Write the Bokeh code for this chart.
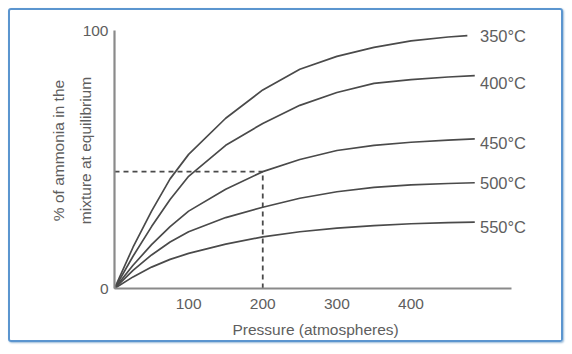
from bokeh.plotting import figure
from bokeh.models import Range1d, FixedTicker, ColumnDataSource, Title
from bokeh.core.properties import value
from bokeh.embed import file_html
from bokeh.resources import INLINE

# ---- data ----
pressure = [0, 25, 50, 75, 100, 150, 200, 250, 300, 350, 400, 450]
end_pressure = [476, 486, 486, 486, 486]
temperatures = ["350", "400", "450", "500", "550"]
pct_350 = [0, 16, 30, 42.5, 52, 66, 77, 85, 90, 93.5, 96, 97.5, 98]
pct_400 = [0, 12.5, 24, 34.5, 43.5, 55.5, 64, 71, 76, 79.5, 81, 82, 82.5]
pct_450 = [0, 9, 17, 24, 30, 38.5, 45.3, 50, 53.5, 55.5, 56.7, 57.5, 58]
pct_500 = [0, 7, 13, 18, 22, 27.5, 31.5, 35, 37.5, 39.2, 40.2, 40.7, 41]
pct_550 = [0, 4.5, 8.3, 11.3, 13.6, 17.2, 20, 22, 23.4, 24.4, 25.1, 25.5, 25.7]
read_pressure = 200
read_percent = 45.3
x_ticks = [100, 200, 300, 400]
y_ticks = [0, 100]

series = [pct_350, pct_400, pct_450, pct_500, pct_550]

FONT = "Liberation Sans"
TXT = "#5e5e5e"

p = figure(width=555, height=334, output_backend="svg", toolbar_location=None,
           x_range=Range1d(0, 603), y_range=Range1d(0, 107),
           min_border_left=104, min_border_right=4, min_border_top=2,
           min_border_bottom=56)
p.styles = {"margin-left": "8px", "margin-top": "8px",
            "border": "2px solid #5b95cf", "border-radius": "3px",
            "box-shadow": "1px 1px 2px #9bbbd8"}
p.background_fill_color = "white"
p.border_fill_color = "white"
p.outline_line_color = None
p.grid.visible = False

# axes
for ax in (p.xaxis[0], p.yaxis[0]):
    ax.axis_line_color = "#8a8a8a"
    ax.axis_line_width = 2.2
    ax.major_tick_line_color = None
    ax.minor_tick_line_color = None
    ax.major_tick_out = 0
    ax.major_tick_in = 0
    ax.minor_tick_out = 0
    ax.major_label_text_font = FONT
    ax.major_label_text_font_size = "15.5px"
    ax.major_label_text_color = TXT
    ax.axis_label_text_font = FONT
    ax.axis_label_text_font_size = "15.5px"
    ax.axis_label_text_font_style = "normal"
    ax.axis_label_text_color = TXT
p.xaxis.bounds = (0, 535)
p.yaxis.bounds = (0, 100)
p.xaxis.ticker = FixedTicker(ticks=x_ticks)
p.yaxis.ticker = FixedTicker(ticks=y_ticks)
p.xaxis.major_label_standoff = 10
p.yaxis.major_label_standoff = 6
p.yaxis.axis_label = "% of ammonia in the\nmixture at equilibrium"
p.yaxis.axis_label_text_line_height = 1.55
p.yaxis.axis_label_standoff = -14

# x axis title, centred under the drawn axis line
p.add_layout(Title(text="Pressure (atmospheres)", align="left", offset=118,
                   text_font=FONT, text_font_size="15.5px",
                   text_font_style="normal", text_color=TXT, standoff=14),
             "below")

# curves
for t, vals, xe in zip(temperatures, series, end_pressure):
    xs = pressure + [xe]
    p.line(xs, vals, line_color="#4a4a4a", line_width=1.7)

# labels at curve ends
nudge = [0, -3, -1.7, 0, -1.9]
lab_y = [v[-1] + d for v, d in zip(series, nudge)]
src = ColumnDataSource(dict(x=[493] * len(temperatures), y=lab_y,
                            t=[f"{t}\u00b0C" for t in temperatures]))
p.text(x="x", y="y", text="t", source=src, text_font=value(FONT),
       text_font_size="16.5px", text_color=TXT, text_baseline="middle",
       text_align="left")

# dashed reading lines
p.line([0, read_pressure], [read_percent, read_percent], line_color="#4a4a4a",
       line_width=1.8, line_dash="5 4")
p.line([read_pressure, read_pressure], [0, read_percent], line_color="#4a4a4a",
       line_width=1.8, line_dash="5 4")

open("out.html", "w").write(file_html(p, INLINE))
